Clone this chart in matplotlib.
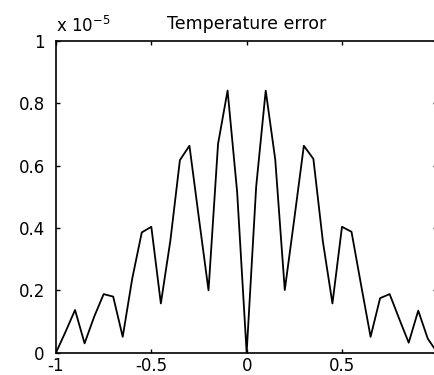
import numpy as np
import matplotlib
matplotlib.use('Agg')
import matplotlib.pyplot as plt

plt.rcParams['axes.unicode_minus'] = False
plt.rcParams['font.family'] = 'DejaVu Sans'

# sample positions and error values (units of 1e-5)
x_vals = np.linspace(-1, 1, 41)
err_vals = [0.0, 0.067, 0.137, 0.030, 0.115, 0.188, 0.180, 0.051, 0.238, 0.386,
            0.404, 0.158, 0.360, 0.618, 0.664, 0.430, 0.200, 0.670, 0.841, 0.517,
            0.0,
            0.533, 0.841, 0.620, 0.201, 0.430, 0.664, 0.622, 0.356, 0.158, 0.404,
            0.388, 0.218, 0.051, 0.175, 0.188, 0.109, 0.032, 0.135, 0.045, 0.0]

xticks = [-1, -0.5, 0, 0.5, 1]
xtick_labels = ['-1', '-0.5', '0', '0.5', '1']
yticks = [0, 0.2, 0.4, 0.6, 0.8, 1]
ytick_labels = ['0', '0.2', '0.4', '0.6', '0.8', '1']

fig = plt.figure(figsize=(4.35, 3.75), dpi=100)
ax = fig.add_axes([0.1287, 0.0595, 0.8766, 0.831])

ax.plot(x_vals, err_vals, color='black', linewidth=1.3)

ax.set_xlim(-1, 1)
ax.set_ylim(0, 1)
ax.set_xticks(xticks)
ax.set_xticklabels(xtick_labels)
ax.set_yticks(yticks)
ax.set_yticklabels(ytick_labels)
ax.tick_params(direction='in', length=3, width=1, labelsize=12,
               top=True, right=True)
ax.tick_params(axis='y', pad=8)
ax.tick_params(axis='x', pad=3)
for s in ax.spines.values():
    s.set_linewidth(1.2)

ax.set_title('Temperature error', fontsize=12.5, pad=9)
ax.text(0.0, 1.015, r'x 10$^{-5}$', transform=ax.transAxes,
        fontsize=12, ha='left', va='bottom')

fig.savefig('out.png', dpi=100)
